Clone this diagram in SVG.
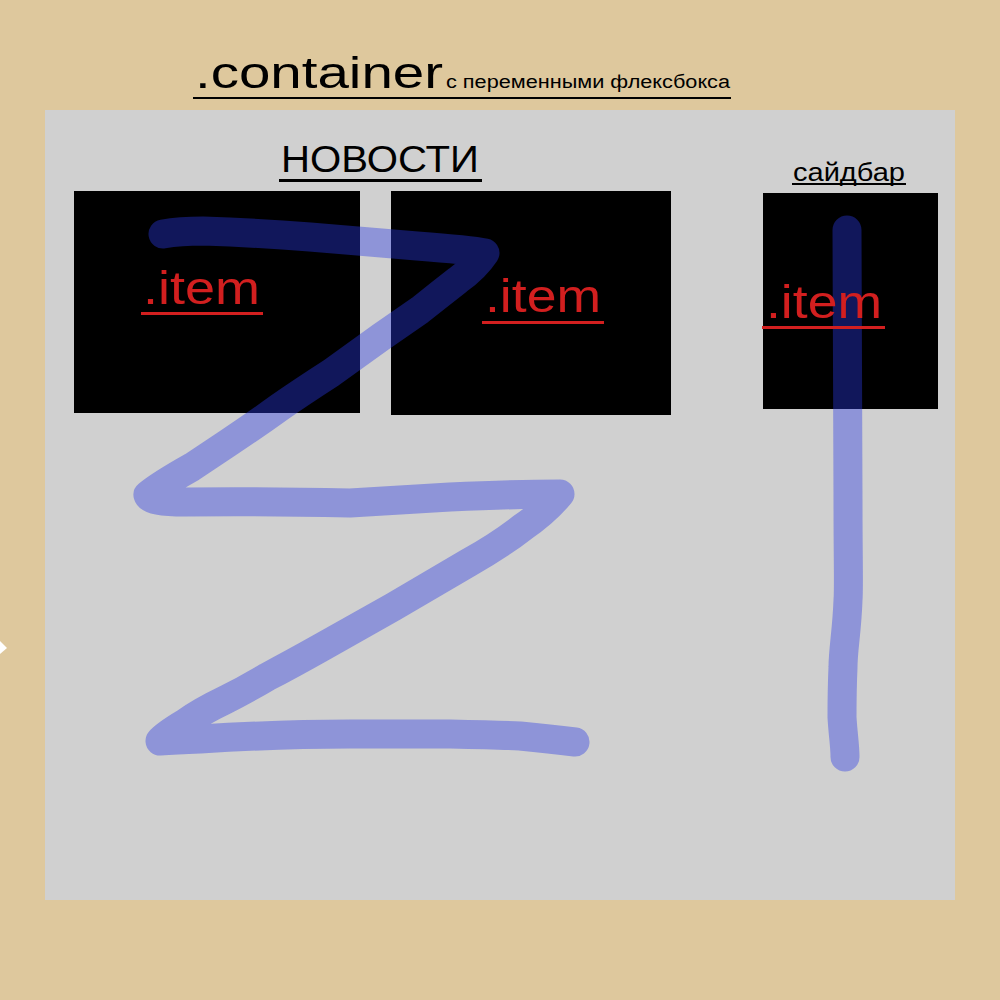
<svg xmlns="http://www.w3.org/2000/svg" width="1000" height="1000" viewBox="0 0 1000 1000">
<style>
.title{font-family:"Liberation Sans","DejaVu Sans",sans-serif;fill:#000}
.item{font-family:"Liberation Sans","DejaVu Sans",sans-serif;font-size:46px;fill:#D21F1F}
.box{fill:#000}
.ul{fill:#000}
.rul{fill:#D21F1F}
.stroke{fill:none;stroke:#2B3AE4;stroke-opacity:0.4;stroke-width:29;stroke-linecap:round;stroke-linejoin:round}
</style>
<rect x="0" y="0" width="1000" height="1000" fill="#DEC89D"/>
<polygon points="0,641 7,648 0,654" fill="#FFFFFF"/>
<g id="container">
  <rect x="45" y="110" width="910" height="790" fill="#D0D0D0"/>
  <text class="title" x="195" y="88" font-size="45" textLength="248" lengthAdjust="spacingAndGlyphs">.container</text>
  <text class="title" x="446" y="88" font-size="18" textLength="284" lengthAdjust="spacingAndGlyphs">с переменными флексбокса</text>
  <rect class="ul" x="193" y="97" width="538" height="2"/>
</g>
<g id="news-label">
  <text class="title" x="281" y="172" font-size="36" textLength="198" lengthAdjust="spacingAndGlyphs">НОВОСТИ</text>
  <rect class="ul" x="279" y="179" width="203" height="3"/>
</g>
<g id="sidebar-label">
  <text class="title" x="793" y="181" font-size="25" textLength="112" lengthAdjust="spacingAndGlyphs">сайдбар</text>
  <rect class="ul" x="792" y="183" width="114" height="2"/>
</g>
<g id="item1">
  <rect class="box" x="74" y="191" width="286" height="222"/>
</g>
<g id="item2">
  <rect class="box" x="391" y="191" width="280" height="224"/>
</g>
<g id="item3">
  <rect class="box" x="763" y="193" width="175" height="216"/>
</g>
<g id="connectors">
  <path class="stroke" d="M163,234 Q180,231 203,231 Q260,233 310,237 L417,246 Q470,250 485,253 Q475,268 458,280 Q440,294 420,310 L381,337 L331,373 Q300,393 280,407 Q255,425 228,443 L192,467 Q160,485 148,495 Q150,502 185,502 Q260,501 350,503 Q400,500 450,497 Q520,494 560,494 Q545,512 523,527 Q500,545 468,563 L393,607 L322,647 Q290,665 267,677 Q245,690 225,700 Q200,712 185,723 Q165,735 160,741 Q175,740 200,739 Q280,734 350,734 L450,734 Q500,735 520,736 Q550,739 575,742"/>
  <path class="stroke" d="M847,230 C847,300 848,400 848,500 C848,560 849,590 848,600 C847,630 843,650 843,667 C842,690 842,705 842,717 C843,735 845,745 845,757"/>
</g>
<g id="item1-label">
  <text class="item" x="143" y="304" textLength="117" lengthAdjust="spacingAndGlyphs">.item</text>
  <rect class="rul" x="141" y="312" width="122" height="3"/>
</g>
<g id="item2-label">
  <text class="item" x="485" y="312" textLength="116" lengthAdjust="spacingAndGlyphs">.item</text>
  <rect class="rul" x="482" y="321" width="122" height="3"/>
</g>
<g id="item3-label">
  <text class="item" x="766" y="318" textLength="116" lengthAdjust="spacingAndGlyphs">.item</text>
  <rect class="rul" x="762" y="326" width="123" height="3"/>
</g>
</svg>
